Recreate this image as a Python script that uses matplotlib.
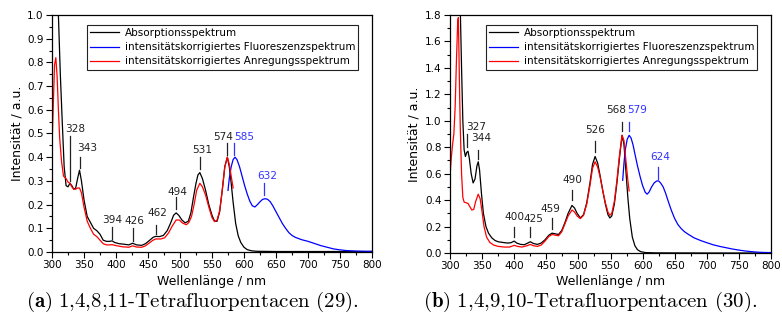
import numpy as np
import matplotlib
matplotlib.use("Agg")
import matplotlib.pyplot as plt
from matplotlib.ticker import MultipleLocator, FormatStrFormatter

# ---- data ----
# (a) 1,4,8,11-Tetrafluorpentacen
wl_abs_a = [308, 310, 313, 316, 319, 322, 325, 328, 331, 334, 337, 340, 343, 346, 350, 355, 360, 365,
            370, 375, 380, 385, 390, 394, 398, 405, 412, 420, 426, 432, 440, 446, 452, 458, 462, 468,
            474, 480, 485, 490, 494, 498, 503, 508, 513, 517, 521, 525, 528, 531, 535, 540, 545, 550,
            554, 558, 562, 566, 570, 574, 577, 580, 583, 587, 591, 595, 600, 605, 612, 620, 650, 700,
            750, 800]
abs_a = [1.1, 1.0, 0.75, 0.55, 0.36, 0.28, 0.275, 0.29, 0.28, 0.265, 0.27, 0.31, 0.345, 0.3, 0.22,
         0.15, 0.125, 0.1, 0.09, 0.075, 0.05, 0.045, 0.045, 0.047, 0.04, 0.035, 0.033, 0.03, 0.037,
         0.03, 0.028, 0.035, 0.048, 0.062, 0.066, 0.065, 0.07, 0.09, 0.12, 0.155, 0.165, 0.155, 0.135,
         0.123, 0.13, 0.165, 0.23, 0.29, 0.325, 0.335, 0.31, 0.26, 0.2, 0.155, 0.13, 0.13, 0.17, 0.26,
         0.36, 0.4, 0.36, 0.29, 0.21, 0.12, 0.068, 0.04, 0.02, 0.01, 0.005, 0.003, 0.002, 0.002, 0.002,
         0.002]
wl_exc_a = [300, 302, 304, 306, 308, 310, 312, 315, 318, 322, 325, 328, 331, 334, 337, 340, 343, 346,
            350, 355, 360, 365, 370, 375, 380, 385, 390, 394, 400, 410, 420, 426, 432, 440, 446, 452,
            458, 462, 470, 476, 482, 488, 494, 499, 504, 510, 514, 518, 522, 526, 531, 535, 540, 545,
            550, 554, 558, 562, 566, 570, 574, 577, 580, 583]
exc_a = [0.44, 0.62, 0.79, 0.82, 0.74, 0.6, 0.48, 0.38, 0.32, 0.31, 0.295, 0.29, 0.275, 0.265, 0.265,
         0.27, 0.27, 0.25, 0.19, 0.13, 0.1, 0.075, 0.065, 0.05, 0.035, 0.03, 0.03, 0.031, 0.027, 0.022,
         0.02, 0.026, 0.021, 0.02, 0.026, 0.038, 0.05, 0.055, 0.055, 0.06, 0.08, 0.11, 0.135, 0.135,
         0.122, 0.115, 0.125, 0.15, 0.2, 0.26, 0.29, 0.275, 0.24, 0.19, 0.145, 0.128, 0.135, 0.175,
         0.26, 0.36, 0.4, 0.37, 0.32, 0.27]
wl_fl_a = [575, 577, 580, 583, 586, 589, 593, 597, 601, 605, 609, 613, 617, 621, 625, 629, 633, 637,
           641, 645, 650, 655, 660, 665, 670, 675, 680, 690, 700, 710, 720, 730, 740, 750, 760, 775,
           790, 800]
fl_a = [0.26, 0.31, 0.36, 0.39, 0.4, 0.39, 0.36, 0.32, 0.28, 0.245, 0.215, 0.195, 0.19, 0.2, 0.212,
        0.222, 0.225, 0.222, 0.212, 0.195, 0.17, 0.145, 0.12, 0.1, 0.082, 0.07, 0.062, 0.052, 0.045,
        0.036, 0.027, 0.02, 0.013, 0.009, 0.006, 0.004, 0.003, 0.003]
peaks_abs_a = [328, 343, 394, 426, 462, 494, 531, 574]
peaks_fl_a = [585, 632]

# (b) 1,4,9,10-Tetrafluorpentacen
wl_abs_b = [316, 318, 320, 322, 324, 326, 328, 330, 333, 336, 339, 342, 344, 346, 349, 352, 356, 360,
            365, 370, 375, 382, 390, 395, 400, 404, 410, 416, 421, 425, 430, 436, 442, 448, 454, 459,
            464, 469, 474, 479, 484, 490, 494, 498, 503, 508, 513, 518, 522, 526, 530, 534, 538, 542,
            546, 549, 552, 556, 560, 564, 568, 571, 574, 577, 580, 584, 588, 592, 597, 605, 620, 700,
            800]
abs_b = [1.85, 1.4, 1.0, 0.78, 0.73, 0.76, 0.77, 0.72, 0.6, 0.53, 0.56, 0.66, 0.69, 0.63, 0.45, 0.3,
         0.2, 0.15, 0.115, 0.095, 0.085, 0.08, 0.075, 0.078, 0.09, 0.075, 0.065, 0.063, 0.075, 0.085,
         0.072, 0.065, 0.075, 0.1, 0.135, 0.15, 0.145, 0.14, 0.17, 0.23, 0.3, 0.36, 0.34, 0.3, 0.265,
         0.29, 0.38, 0.53, 0.67, 0.73, 0.68, 0.58, 0.47, 0.37, 0.29, 0.265, 0.28, 0.37, 0.53, 0.72,
         0.89, 0.82, 0.62, 0.42, 0.26, 0.12, 0.055, 0.025, 0.01, 0.003, 0.001, 0.0, 0.0]
wl_exc_b = [300, 302, 304, 306, 308, 310, 312, 313, 314, 315, 316, 318, 320, 322, 325, 328, 331, 334,
            337, 340, 344, 347, 350, 353, 357, 362, 368, 375, 385, 393, 400, 405, 412, 420, 425, 430,
            436, 442, 448, 454, 459, 464, 469, 474, 479, 484, 490, 494, 498, 503, 508, 513, 518, 522,
            526, 530, 534, 538, 542, 546, 549, 552, 556, 560, 564, 568, 571, 574, 577, 579]
exc_b = [0.58, 0.72, 0.82, 0.9, 1.1, 1.45, 1.75, 1.78, 1.5, 1.2, 0.95, 0.6, 0.42, 0.385, 0.38, 0.375,
         0.35, 0.325, 0.33, 0.39, 0.445, 0.41, 0.31, 0.2, 0.12, 0.08, 0.06, 0.05, 0.045, 0.045, 0.058,
         0.05, 0.045, 0.055, 0.065, 0.055, 0.05, 0.06, 0.09, 0.125, 0.14, 0.135, 0.13, 0.16, 0.22,
         0.28, 0.325, 0.31, 0.28, 0.26, 0.285, 0.37, 0.51, 0.64, 0.69, 0.65, 0.57, 0.47, 0.38, 0.31,
         0.285, 0.3, 0.39, 0.55, 0.74, 0.89, 0.85, 0.7, 0.55, 0.47]
wl_fl_b = [569, 571, 573, 576, 579, 582, 585, 588, 592, 596, 600, 604, 607, 610, 614, 618, 622, 625,
           628, 632, 636, 640, 645, 650, 655, 660, 665, 670, 680, 690, 700, 710, 720, 730, 740, 750,
           760, 770, 780, 790, 800]
fl_b = [0.55, 0.68, 0.78, 0.86, 0.89, 0.87, 0.82, 0.75, 0.66, 0.58, 0.51, 0.46, 0.445, 0.46, 0.5,
        0.53, 0.545, 0.545, 0.53, 0.5, 0.45, 0.39, 0.32, 0.26, 0.215, 0.185, 0.162, 0.145, 0.115,
        0.095, 0.078, 0.062, 0.05, 0.04, 0.03, 0.022, 0.015, 0.01, 0.006, 0.004, 0.003]
peaks_abs_b = [327, 344, 400, 425, 459, 490, 526, 568]
peaks_fl_b = [579, 624]

legend_labels = ["Absorptionsspektrum",
                 "intensitätskorrigiertes Fluoreszenzspektrum",
                 "intensitätskorrigiertes Anregungsspektrum"]
captions = [r"$\mathbf{(a)}\ \text{1,4,8,11-Tetrafluorpentacen (}\mathbf{29}\text{).}$",
            r"$\mathbf{(b)}\ \text{1,4,9,10-Tetrafluorpentacen (}\mathbf{30}\text{).}$"]

# ---- label placement: peak -> (line bottom, line top, text x, text y) ----
place_a = {328: (0.30, 0.49, 336, 0.52), 343: (0.355, 0.40, 355, 0.44),
           394: (0.055, 0.105, 394, 0.136), 426: (0.045, 0.10, 428, 0.13),
           462: (0.075, 0.115, 465, 0.165), 494: (0.18, 0.23, 496, 0.255),
           531: (0.35, 0.40, 534, 0.43), 574: (0.41, 0.46, 567, 0.487),
           585: (0.41, 0.46, 600, 0.487), 632: (0.24, 0.29, 636, 0.32)}
place_b = {327: (0.80, 0.90, 341, 0.955), 344: (0.71, 0.78, 349, 0.866),
           400: (0.12, 0.20, 400, 0.27), 425: (0.12, 0.20, 430, 0.26),
           459: (0.185, 0.265, 457, 0.336), 490: (0.40, 0.48, 491, 0.55),
           526: (0.765, 0.85, 526, 0.93), 568: (0.92, 0.99, 559, 1.08),
           579: (0.92, 0.99, 591, 1.08), 624: (0.56, 0.65, 628, 0.727)}

plt.rcParams['font.family'] = 'DejaVu Sans'
plt.rcParams['mathtext.fontset'] = 'cm'

fig = plt.figure(figsize=(7.82, 3.25), dpi=100)
ax_a = fig.add_axes([52 / 782, 73 / 325, 320 / 782, 237 / 325])
ax_b = fig.add_axes([450 / 782, 72 / 325, 321 / 782, 238 / 325])

panels = [
    (ax_a, wl_abs_a, abs_a, wl_fl_a, fl_a, wl_exc_a, exc_a, peaks_abs_a, peaks_fl_a, place_a, 1.0, 0.1, 0.05),
    (ax_b, wl_abs_b, abs_b, wl_fl_b, fl_b, wl_exc_b, exc_b, peaks_abs_b, peaks_fl_b, place_b, 1.8, 0.2, 0.1),
]

for i, (ax, wa, ya, wf, yf, we, ye, pk_abs, pk_fl, place, ymax, ymaj, ymin) in enumerate(panels):
    ax.plot(wa, ya, color='black', lw=0.9, label=legend_labels[0])
    ax.plot(wf, yf, color='#0000ff', lw=0.9, label=legend_labels[1])
    ax.plot(we, ye, color='#ff0000', lw=0.9, label=legend_labels[2])

    for pk in pk_abs + pk_fl:
        col = '#222222' if pk in pk_abs else '#3333ff'
        y0, y1, tx, ty = place[pk]
        ax.plot([pk, pk], [y0, y1], color=col, lw=0.9)
        ax.text(tx, ty, str(pk), color=col, fontsize=7.6, ha='center', va='center')

    ax.set_xlim(300, 800)
    ax.set_ylim(0, ymax)
    ax.xaxis.set_major_locator(MultipleLocator(50))
    ax.xaxis.set_minor_locator(MultipleLocator(25))
    ax.yaxis.set_major_locator(MultipleLocator(ymaj))
    ax.yaxis.set_minor_locator(MultipleLocator(ymin))
    ax.yaxis.set_major_formatter(FormatStrFormatter('%.1f'))
    ax.tick_params(which='both', direction='out', top=False, right=False, labelsize=7.5, width=0.8)
    ax.tick_params(which='major', length=4, pad=2)
    ax.tick_params(which='minor', length=2.5)
    for sp in ax.spines.values():
        sp.set_linewidth(0.9)
    ax.set_xlabel("Wellenlänge / nm", fontsize=9, labelpad=3)
    ax.set_ylabel("Intensität / a.u.", fontsize=9, labelpad=3)

    leg = ax.legend(loc='upper right', bbox_to_anchor=(0.957, 0.958), borderaxespad=0,
                    fontsize=7.5, frameon=True, fancybox=False, framealpha=1,
                    edgecolor='#222222', handlelength=2.8, handletextpad=0.5,
                    labelspacing=0.4, borderpad=0.3)
    leg.get_frame().set_linewidth(0.8)

fig.text(192 / 782, 1 - 302 / 325, captions[0], fontsize=15, ha='center', va='center')
fig.text(590 / 782, 1 - 302 / 325, captions[1], fontsize=15, ha='center', va='center')

fig.savefig('out.png', dpi=100)
